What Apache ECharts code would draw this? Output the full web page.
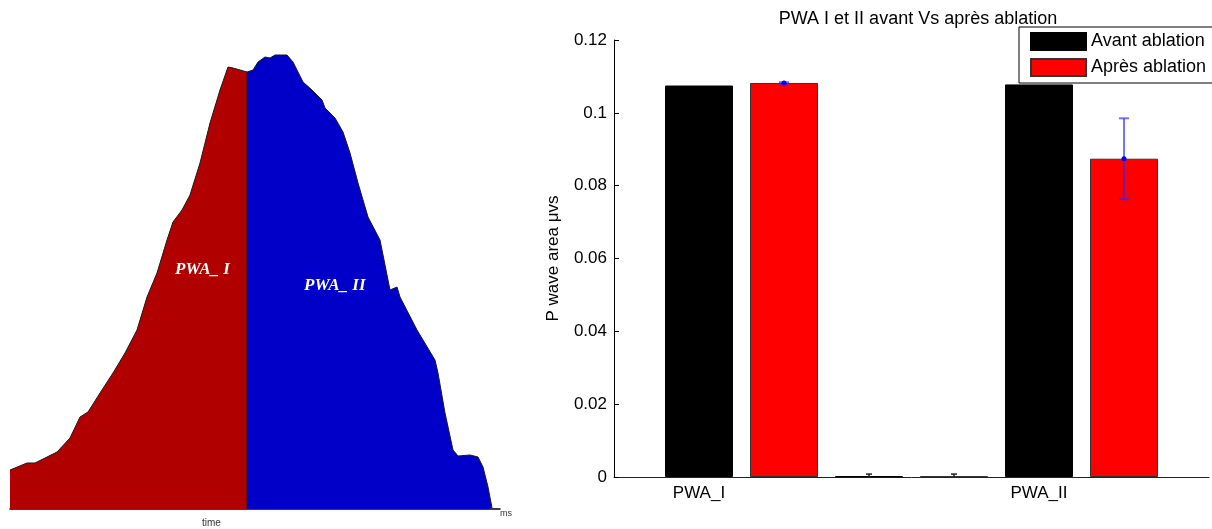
<!DOCTYPE html>
<html>
<head>
<meta charset="utf-8">
<title>PWA I et II</title>
<script src="https://cdn.jsdelivr.net/npm/echarts@6/dist/echarts.min.js"></script>
<style>
  html, body { margin: 0; padding: 0; background: #fff; }
  #chart { width: 1212px; height: 529px; }
</style>
</head>
<body>
<div id="chart"></div>
<script>
// onde P : temps (ms) / amplitude, partie I (rouge) puis partie II (bleue)
const pwaITime = [0, 4.25, 6.25, 11.75, 15, 17.5, 19.5, 22.5, 25.75, 28.75, 31.75, 34.25, 36.75,
  39.25, 40.75, 43, 45, 47.5, 50, 52.5, 54.5, 55.75, 59.25]
const pwaIAmp = [9.75, 11.5, 11.5, 14.25, 17.75, 23, 24.25, 29, 34, 39, 44.75, 53, 59,
  67.25, 71.75, 74.75, 78.5, 86.5, 96.5, 104.75, 110.5, 110.25, 109.25]
const pwaIITime = [59.25, 59.25, 60.75, 62, 63.75, 65, 66.25, 69.25, 70.75, 73.25, 75.5, 78, 78.75,
  81.25, 83.25, 85, 87, 89.5, 92.5, 94.5, 95, 96.75, 97.5, 101.75, 106.25, 107, 108.75,
  110.75, 112, 115, 117, 118.25, 119.5, 120.5]
const pwaIIAmp = [0, 109.25, 109.75, 111.75, 113, 112.75, 113.5, 113.5, 111.75, 106.75, 104.75, 102.25, 100.25,
  97.75, 94.25, 89, 81.5, 73, 67.25, 57.25, 54.75, 55.5, 53, 44.75, 37.25, 34, 24,
  14.75, 13.25, 13.5, 13, 10.5, 5.5, 0.25]

// barres : positions sur l'axe et valeurs
const avantPos = [1, 3, 5]
const avantVals = [0.1075, 0.0002, 0.1078]
const apresPos = [2, 4, 6]
const apresVals = [0.1082, 0.0002, 0.0874]
// barres d'erreur [position, valeur, erreur]
const errBlue = [[2, 0.1082, 0.0002], [6, 0.0874, 0.0111]]
const errBlack = [[3, 0, 0.0008], [4, 0, 0.0008]]

const xTickPos = [1, 5]
const xTickLabels = ['PWA_I', 'PWA_II']

const zip = (a, b) => a.map((v, i) => [v, b[i]])

function errorItem(color, cap, width) {
  return function (params, api) {
    const x = api.value(0)
    const v = api.value(1)
    const e = api.value(2)
    const top = api.coord([x, v + e])
    const bot = api.coord([x, Math.max(0, v - e)])
    const mid = api.coord([x, v])
    const style = { stroke: color, lineWidth: width }
    const children = [
      { type: 'line', shape: { x1: top[0], y1: top[1], x2: bot[0], y2: bot[1] }, style },
      { type: 'line', shape: { x1: top[0] - cap, y1: top[1], x2: top[0] + cap, y2: top[1] }, style }
    ]
    if (v > 0) {
      children.push({ type: 'line', shape: { x1: bot[0] - cap, y1: bot[1], x2: bot[0] + cap, y2: bot[1] }, style })
      children.push({ type: 'circle', shape: { cx: mid[0], cy: mid[1], r: 2.5 }, style: { fill: '#0000ff' } })
    }
    return { type: 'group', children }
  }
}

const chart = echarts.init(document.getElementById('chart'))

const option = {
  animation: false,
  textStyle: { fontFamily: 'Liberation Sans, Arial, sans-serif' },
  title: {
    text: 'PWA I et II avant Vs après ablation',
    left: 913,
    top: 5,
    textAlign: 'center',
    textStyle: { fontSize: 18, fontWeight: 'normal', color: '#000' }
  },
  legend: {
    data: ['Avant ablation', 'Après ablation'],
    orient: 'vertical',
    left: 1019,
    top: 27,
    padding: [5, 40, 6, 11],
    icon: 'rect',
    itemWidth: 55,
    itemHeight: 17,
    itemGap: 7,
    backgroundColor: '#fff',
    borderColor: '#000',
    borderWidth: 1,
    borderRadius: 0,
    z: 10,
    textStyle: { fontSize: 18, lineHeight: 17, color: '#000' }
  },
  graphic: [
    {
      type: 'text', left: 175, top: 261, z: 100,
      style: { text: 'PWA_ I', fill: '#fff', font: 'italic bold 17px "Liberation Serif", serif' }
    },
    {
      type: 'text', left: 304, top: 277, z: 100,
      style: { text: 'PWA_ II', fill: '#fff', font: 'italic bold 17px "Liberation Serif", serif' }
    },
    {
      type: 'text', left: 202, top: 518, z: 100,
      style: { text: 'time', fill: '#333', font: '10px "Liberation Sans Narrow", sans-serif' }
    }
  ],
  grid: [
    { left: 614, right: 0, top: 40, bottom: 52 },
    { left: 10, width: 490, top: 40, height: 469 }
  ],
  xAxis: [
    {
      gridIndex: 0,
      type: 'value',
      min: 0,
      max: 7,
      interval: 1,
      splitLine: { show: false },
      axisTick: { show: false },
      axisLine: { lineStyle: { color: '#222', width: 1 } },
      axisLabel: {
        fontSize: 17,
        color: '#000',
        margin: 8,
        formatter: v => {
          const i = xTickPos.indexOf(v)
          return i >= 0 ? xTickLabels[i] : ''
        }
      }
    },
    {
      gridIndex: 1,
      type: 'value',
      min: 0,
      max: 122.5,
      name: 'ms',
      nameGap: 0,
      nameTextStyle: { fontSize: 9, color: '#333', verticalAlign: 'top', fontFamily: 'Liberation Sans Narrow, sans-serif' },
      splitLine: { show: false },
      axisTick: { show: false },
      axisLabel: { show: false },
      axisLine: { lineStyle: { color: '#000', width: 1.5 } }
    }
  ],
  yAxis: [
    {
      gridIndex: 0,
      type: 'value',
      min: 0,
      max: 0.12,
      interval: 0.02,
      name: 'P wave area μvs',
      nameLocation: 'middle',
      nameGap: 52,
      nameTextStyle: { fontSize: 17, color: '#000' },
      splitLine: { show: false },
      axisLine: { show: true, lineStyle: { color: '#000', width: 1 } },
      axisTick: { show: true, inside: true, length: 5, lineStyle: { color: '#000' } },
      axisLabel: { fontSize: 17, color: '#000', margin: 7 }
    },
    {
      gridIndex: 1,
      type: 'value',
      min: 0,
      max: 117.25,
      show: false
    }
  ],
  series: [
    {
      name: 'Avant ablation',
      type: 'bar',
      xAxisIndex: 0,
      yAxisIndex: 0,
      barWidth: 68,
      barGap: '-100%',
      itemStyle: { color: '#000', borderColor: '#000', borderWidth: 1 },
      data: zip(avantPos, avantVals)
    },
    {
      name: 'Après ablation',
      type: 'bar',
      xAxisIndex: 0,
      yAxisIndex: 0,
      barWidth: 68,
      barGap: '-100%',
      itemStyle: { color: '#ff0000', borderColor: '#333', borderWidth: 1 },
      data: zip(apresPos, apresVals)
    },
    {
      type: 'custom',
      xAxisIndex: 0,
      yAxisIndex: 0,
      z: 5,
      renderItem: errorItem('rgba(40, 40, 255, 0.65)', 5, 2),
      data: errBlue
    },
    {
      type: 'custom',
      xAxisIndex: 0,
      yAxisIndex: 0,
      z: 5,
      renderItem: errorItem('#222', 3, 1.5),
      data: errBlack
    },
    {
      type: 'line',
      xAxisIndex: 1,
      yAxisIndex: 1,
      symbol: 'none',
      lineStyle: { color: '#1a1a1a', width: 1 },
      areaStyle: { color: '#b00000', opacity: 1 },
      data: zip(pwaITime, pwaIAmp)
    },
    {
      type: 'line',
      xAxisIndex: 1,
      yAxisIndex: 1,
      symbol: 'none',
      lineStyle: { color: '#1a1a1a', width: 1 },
      areaStyle: { color: '#0000c8', opacity: 1 },
      data: zip(pwaIITime, pwaIIAmp)
    }
  ]
}

chart.setOption(option)
window.addEventListener('resize', () => chart.resize())
</script>
</body>
</html>
